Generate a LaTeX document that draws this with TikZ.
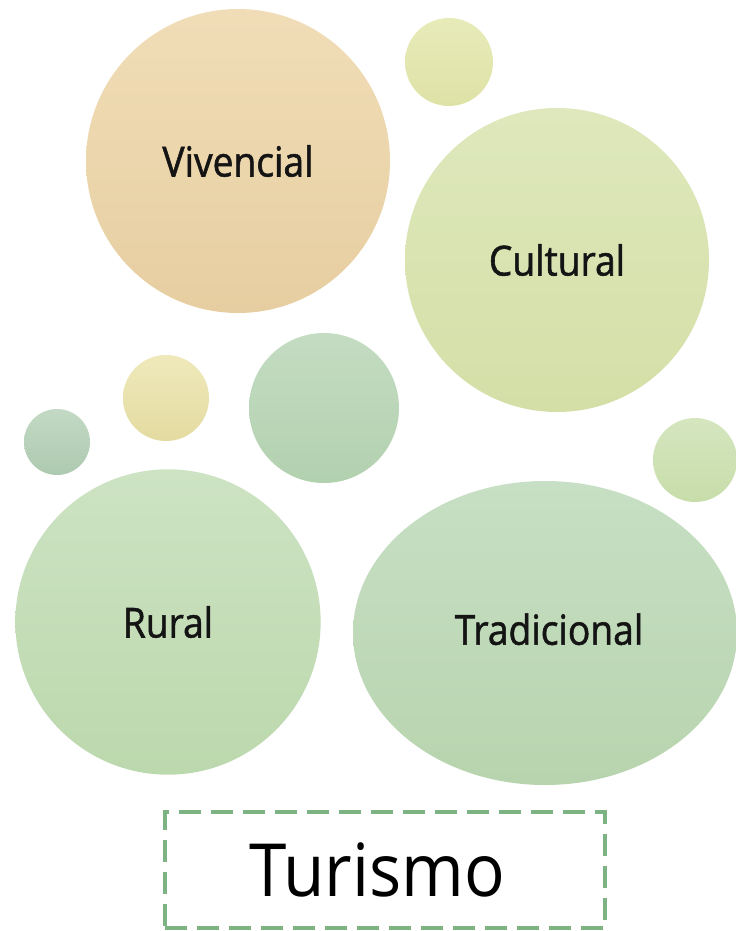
\documentclass[tikz,border=0pt]{standalone}
\usepackage{fontspec}
\setmainfont[FakeStretch=0.92]{Open Sans}
\newfontfamily\lblfont[FakeStretch=0.9, FakeBold=1.3]{Open Sans}
\usetikzlibrary{shapes.geometric}
\definecolor{boxgreen}{HTML}{7DB283}
\definecolor{txt}{HTML}{141414}
\definecolor{s1t}{HTML}{E7EBB9}\definecolor{s1b}{HTML}{DFE2A6}
\definecolor{s2t}{HTML}{EFE9BB}\definecolor{s2b}{HTML}{E4DBA1}
\definecolor{s3t}{HTML}{C4DCC2}\definecolor{s3b}{HTML}{B2D1AF}
\definecolor{s4t}{HTML}{C3D9C5}\definecolor{s4b}{HTML}{ADCAB0}
\definecolor{s5t}{HTML}{D5E6BF}\definecolor{s5b}{HTML}{C7DDA9}
\definecolor{vivt}{HTML}{F0DDB7}\definecolor{vivb}{HTML}{E7CEA1}
\definecolor{cult}{HTML}{DEE8BC}\definecolor{culb}{HTML}{D4DFA7}
\definecolor{rurt}{HTML}{CDE3C3}\definecolor{rurb}{HTML}{BCD8AD}
\definecolor{trat}{HTML}{C7DFC4}\definecolor{trab}{HTML}{B7D4AE}
\tikzset{
  bubble/.style={circle, draw=none, inner sep=0pt, minimum size=#1},
  lbl/.style={font=\lblfont\fontsize{31}{31}\selectfont, text=txt},
}
\begin{document}
\begin{tikzpicture}[x=0.75pt,y=-0.75pt]
\useasboundingbox (0,0) rectangle (735,931);
% small bubbles
\node[bubble=66pt, top color=s1t, bottom color=s1b] (s1) at (449,62) {};
\node[bubble=64.5pt, top color=s2t, bottom color=s2b] (s2) at (166,398) {};
\node[bubble=112.5pt, top color=s3t, bottom color=s3b] (s3) at (324,408) {};
\node[bubble=49.5pt, top color=s4t, bottom color=s4b] (s4) at (57,442) {};
\node[bubble=63pt, top color=s5t, bottom color=s5b] (s5) at (695,460) {};
% main bubbles
\node[bubble=228pt, top color=vivt, bottom color=vivb, lbl] (viv) at (238,161) {Vivencial};
\node[bubble=228pt, top color=cult, bottom color=culb, lbl] (cul) at (557,260) {Cultural};
\node[bubble=229pt, top color=rurt, bottom color=rurb, lbl] (rur) at (168,622) {Rural};
\node[ellipse, draw=none, inner sep=0pt, minimum width=288pt, minimum height=228pt,
      top color=trat, bottom color=trab, lbl] (tra) at (545,633) {\hspace*{6pt}Tradicional\raisebox{0pt}[0pt][6pt]{}};
% title box
\node[draw=boxgreen, line width=3pt, dash pattern=on 16.5pt off 7.5pt,
      minimum width=330pt, minimum height=87pt, inner sep=0pt,
      font=\fontsize{55}{55}\selectfont, text=black] (tur) at (385,870) {Turismo\hspace*{12pt}};
\end{tikzpicture}
\end{document}
